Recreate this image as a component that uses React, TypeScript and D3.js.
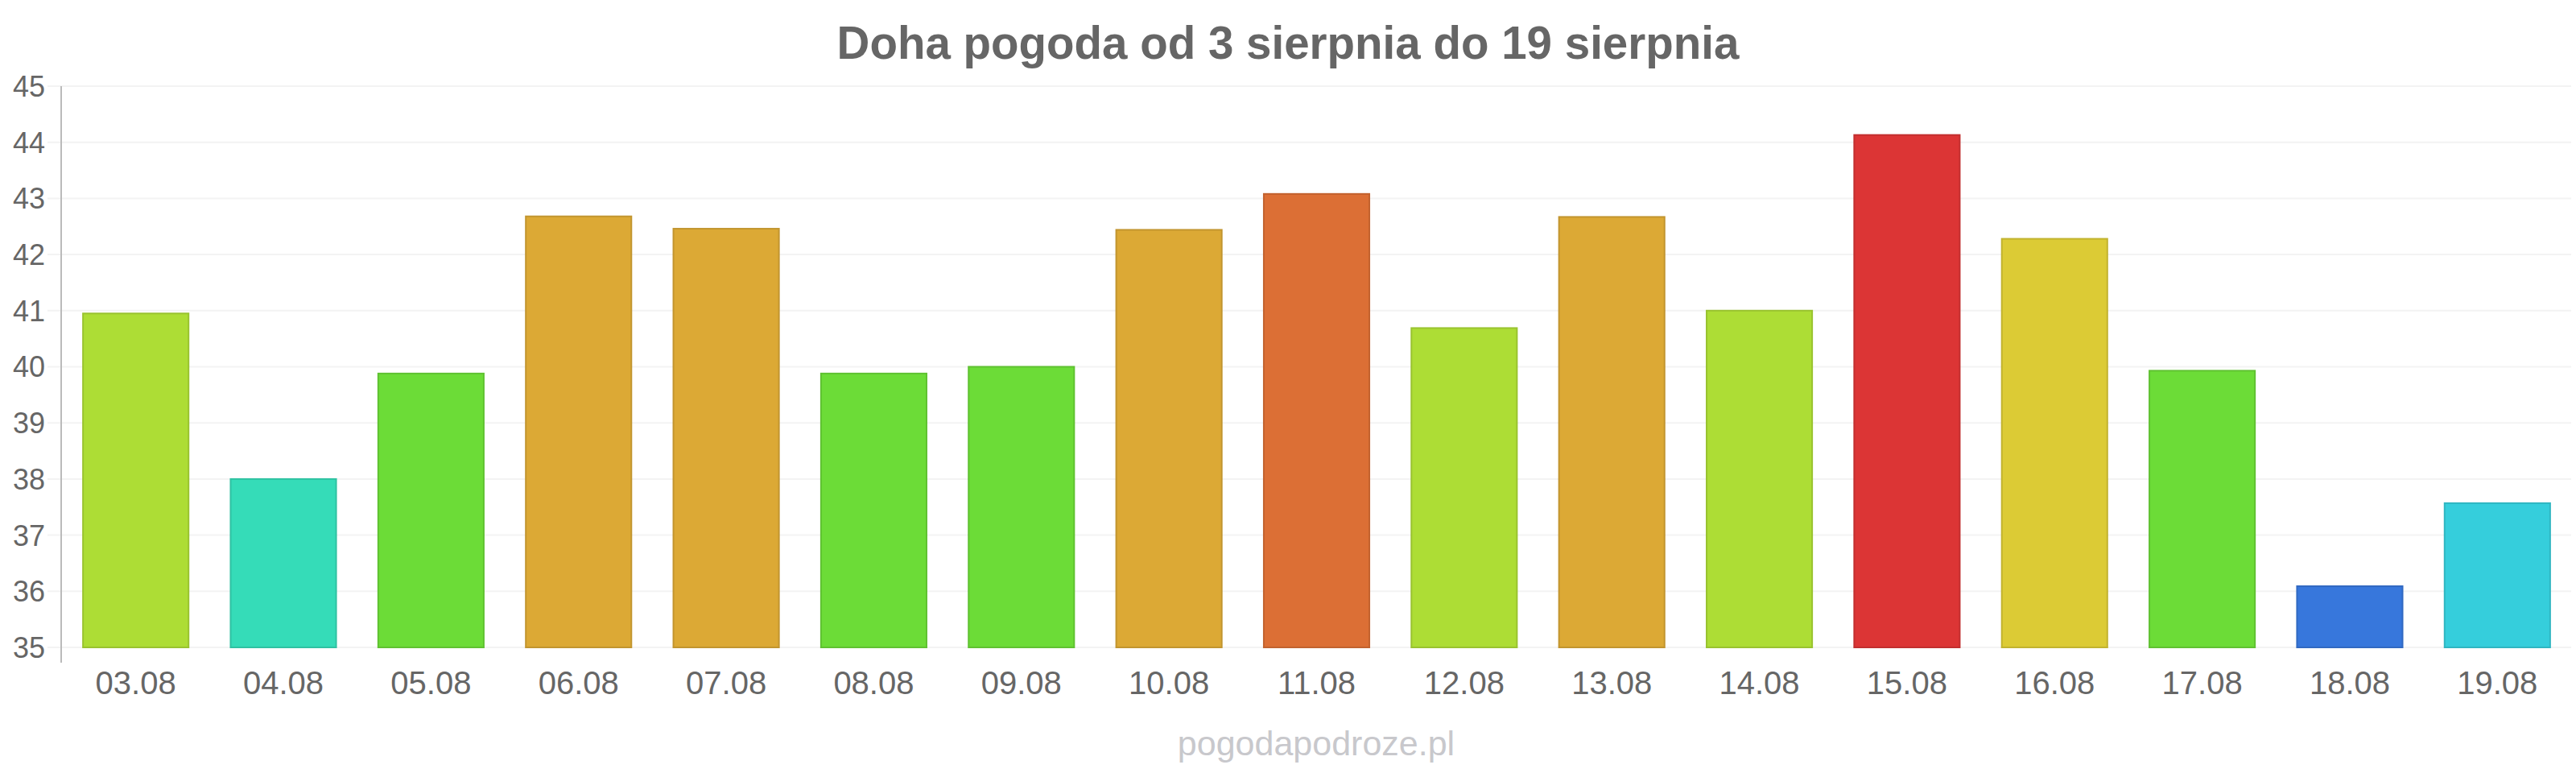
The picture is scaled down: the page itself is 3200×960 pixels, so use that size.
import React from "react";
import * as d3 from "d3";

const days = [
  "03.08", "04.08", "05.08", "06.08", "07.08", "08.08", "09.08", "10.08", "11.08",
  "12.08", "13.08", "14.08", "15.08", "16.08", "17.08", "18.08", "19.08",
];
const temps = [
  40.95, 38.0, 39.88, 42.68, 42.46, 39.88, 40.0, 42.44, 43.08,
  40.69, 42.67, 41.0, 44.13, 42.28, 39.93, 36.09, 37.57,
];
const yTicks = [35, 36, 37, 38, 39, 40, 41, 42, 43, 44, 45];

const title = "Doha pogoda od 3 sierpnia do 19 sierpnia";
const credit = "pogodapodroze.pl";

const width = 3200;
const height = 960;
const marginLeft = 76;
const marginRight = 6;
const marginTop = 107;
const marginBottom = 156;
const font = "'Liberation Sans', Arial, sans-serif";

// temperature bands -> bar colour
const tempColor = d3
  .scaleThreshold<number, string>()
  .domain([37, 38, 39, 40.3, 42, 42.35, 43, 44])
  .range([
    "#3777dc", "#35cedc", "#35dcb8", "#6cdc37", "#addd35",
    "#dccb35", "#dca935", "#dc6f35", "#dc3535",
  ]);

const App: React.FC = () => {
  const x = d3
    .scaleBand<string>()
    .domain(days)
    .range([marginLeft + 1, width - marginRight])
    .paddingInner(0.285)
    .paddingOuter(0.1425);

  const y = d3
    .scaleLinear()
    .domain([35, 45])
    .range([height - marginBottom, marginTop]);

  const plotCenter = (marginLeft + width - marginRight) / 2;

  return (
    <div style={{ position: "absolute", left: 0, top: 0 }}>
      <svg width={width} height={height} viewBox={`0 0 ${width} ${height}`} fontFamily={font}>
        <rect width={width} height={height} fill="#ffffff" />

        <text
          x={width / 2}
          y={73}
          textAnchor="middle"
          fontSize={56.5}
          fontWeight="bold"
          fill="#666666"
        >
          {title}
        </text>

        {/* grid + y ticks */}
        <g>
          {yTicks.map((t) => (
            <g key={t}>
              <line
                x1={marginLeft - 17}
                x2={width - marginRight}
                y1={y(t)}
                y2={y(t)}
                stroke="#f3f3f3"
                strokeWidth={2}
              />
              <text
                x={56}
                y={y(t)}
                dy="0.36em"
                textAnchor="end"
                fontSize={36}
                fill="#666666"
              >
                {t}
              </text>
            </g>
          ))}
        </g>

        <line
          x1={marginLeft}
          x2={marginLeft}
          y1={marginTop}
          y2={height - marginBottom + 19}
          stroke="#bbbbbb"
          strokeWidth={2}
        />

        {/* bars */}
        <g>
          {temps.map((v, i) => {
            const c = tempColor(v);
            return (
              <rect
                key={days[i]}
                x={x(days[i])!}
                y={y(v)}
                width={x.bandwidth()}
                height={y(35) - y(v)}
                fill={c}
                stroke={d3.color(c)!.darker(0.35).formatHex()}
                strokeWidth={2}
              />
            );
          })}
        </g>

        {/* x labels */}
        <g>
          {days.map((d) => (
            <text
              key={d}
              x={x(d)! + x.bandwidth() / 2}
              y={862}
              textAnchor="middle"
              fontSize={40}
              fill="#666666"
            >
              {d}
            </text>
          ))}
        </g>

        <text x={plotCenter} y={938} textAnchor="middle" fontSize={43} fill="#c8c8cc">
          {credit}
        </text>
      </svg>
    </div>
  );
};

export default App;
